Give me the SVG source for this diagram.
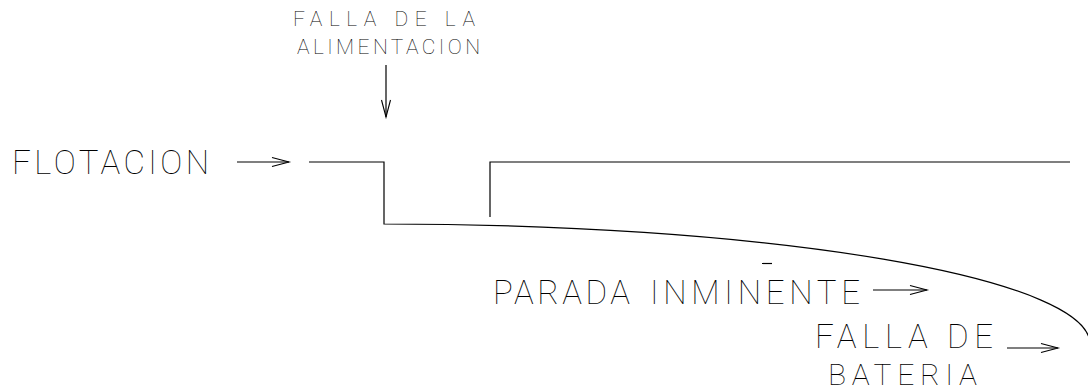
<svg xmlns="http://www.w3.org/2000/svg" width="1088" height="391" viewBox="0 0 1088 391">
<style>
.ln{fill:none;stroke:#000;stroke-width:1.2;stroke-linecap:butt}
.t{font-family:"Roboto","Liberation Sans",sans-serif;font-weight:100;fill:#000}
.big{font-size:33px}
.sm{font-size:21px}
</style>
<defs>
<marker id="open" markerUnits="userSpaceOnUse" markerWidth="19" markerHeight="12" refX="17" refY="5" orient="auto" overflow="visible">
<path d="M0,0.5 L17,5 L0,9.5" fill="none" stroke="#000" stroke-width="1.1"/>
</marker>
</defs>
<rect width="1088" height="391" fill="#fff"/>
<g id="signal">
<path class="ln" d="M309,162 H384 V224 A706,120 0 0 1 1090,344"/>
<path class="ln" d="M490,217 V162 H1070"/>
<path class="ln" d="M762,263.5 H772" stroke-width="1"/>
</g>
<g id="connectors">
<line class="ln" x1="237" y1="162" x2="289" y2="162" marker-end="url(#open)"/>
<line class="ln" x1="386" y1="65" x2="386" y2="117" marker-end="url(#open)"/>
<line class="ln" x1="873" y1="290" x2="927" y2="290" marker-end="url(#open)"/>
<line class="ln" x1="1007" y1="348" x2="1058" y2="348" marker-end="url(#open)"/>
</g>
<g id="flotacion"><text class="t big" x="12" y="174" textLength="197" lengthAdjust="spacing">FLOTACION</text></g>
<g id="falla-alimentacion">
<text class="t sm" x="293" y="26" textLength="182" lengthAdjust="spacing">FALLA DE LA</text>
<text class="t sm" x="297" y="54" textLength="183" lengthAdjust="spacing">ALIMENTACION</text>
</g>
<g id="parada">
<text class="t big" x="493" y="304" textLength="137" lengthAdjust="spacing">PARADA</text>
<text class="t big" x="650" y="304" textLength="210" lengthAdjust="spacing">INMINENTE</text>
</g>
<g id="falla-bateria">
<text class="t big" x="815" y="348" textLength="178" lengthAdjust="spacing">FALLA DE</text>
<text class="t" x="828" y="385" font-size="30" textLength="149" lengthAdjust="spacing">BATERIA</text>
</g>
</svg>
